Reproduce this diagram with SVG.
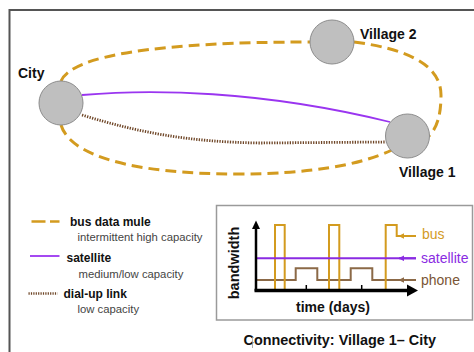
<svg xmlns="http://www.w3.org/2000/svg" width="474" height="352" viewBox="0 0 474 352">
  <defs>
    <style>
      .node { fill: #bfbfbf; stroke: #8c8c8c; stroke-width: 1; }
      .lbl { font-family: "Liberation Sans", Arial, sans-serif; font-weight: bold; fill: #111; }
      .sub { font-family: "Liberation Sans", Arial, sans-serif; fill: #444; font-size: 11.3px; }
      .bus { fill: none; stroke: #d39b1f; stroke-width: 3; stroke-dasharray: 11 6; }
      .sat { fill: none; stroke: #9a35f0; stroke-width: 1.8; }
      .dial { fill: none; stroke: #6e4526; stroke-width: 2.8; stroke-dasharray: 1.3 1.3; }
      .cbus { fill: none; stroke: #d39b1f; stroke-width: 2; }
      .csat { fill: none; stroke: #8a2be2; stroke-width: 2; }
      .cph { fill: none; stroke: #8b6947; stroke-width: 2; }
    </style>
    <marker id="ah-bus" viewBox="0 0 10 10" refX="9" refY="5" markerWidth="3" markerHeight="3" orient="auto">
      <path d="M0,0 L10,5 L0,10 Z" fill="#d39b1f"/>
    </marker>
    <marker id="ah-sat" viewBox="0 0 10 10" refX="9" refY="5" markerWidth="3" markerHeight="3" orient="auto">
      <path d="M0,0 L10,5 L0,10 Z" fill="#8a2be2"/>
    </marker>
    <marker id="ah-ph" viewBox="0 0 10 10" refX="9" refY="5" markerWidth="3" markerHeight="3" orient="auto">
      <path d="M0,0 L10,5 L0,10 Z" fill="#8b6947"/>
    </marker>
  </defs>

  <rect x="0" y="0" width="474" height="352" fill="#ffffff"/>

  <!-- frame -->
  <g id="frame" stroke="#555" stroke-width="2" fill="none">
    <path d="M9.5,352 V10 H474"/>
  </g>

  <!-- connectors -->
  <g id="connectors">
    <path class="bus" d="M61,81 C72,55 160,42 310,42"/>
    <path class="bus" d="M354,42 C400,48 441,62 441,95 C441,115 437,128 429,136"/>
    <path class="bus" d="M61,125 C70,155 130,174 237,174 C310,174 360,165 392,150"/>
    <path class="sat" d="M82,95 C150,89 260,90 390,122"/>
    <path class="dial" d="M82,115 C140,133 190,142 260,143 L386,142"/>
  </g>

  <!-- nodes -->
  <g id="city">
    <circle class="node" cx="61" cy="103" r="22"/>
    <text class="lbl" x="18" y="78" font-size="14">City</text>
  </g>
  <g id="village2">
    <circle class="node" cx="332" cy="42" r="22"/>
    <text class="lbl" x="360" y="39" font-size="14">Village 2</text>
  </g>
  <g id="village1">
    <circle class="node" cx="407.5" cy="136" r="22"/>
    <text class="lbl" x="399" y="177" font-size="14">Village 1</text>
  </g>

  <!-- legend -->
  <g id="legend">
    <path d="M31.5,221.5 H45.5 M50,221.5 H59.5" stroke="#d39b1f" stroke-width="2.5" fill="none"/>
    <text class="lbl" x="70" y="225.5" font-size="12">bus data mule</text>
    <text class="sub" x="77.5" y="241">intermittent high capacity</text>
    <path d="M30,256 H59.5" class="sat"/>
    <text class="lbl" x="66.5" y="262" font-size="12">satellite</text>
    <text class="sub" x="78.5" y="277.5">medium/low capacity</text>
    <path d="M28.5,293.5 H57.5" stroke="#6e4526" stroke-width="2.4" stroke-dasharray="1.2 1.2" fill="none"/>
    <text class="lbl" x="63.5" y="297.5" font-size="12">dial-up link</text>
    <text class="sub" x="77.5" y="312.5">low capacity</text>
  </g>

  <!-- chart -->
  <g id="chart">
    <rect x="216.5" y="205.5" width="256" height="114.5" fill="#fff" stroke="#9a9a9a" stroke-width="1.5"/>
    <text class="lbl" font-size="14.5" text-anchor="middle" transform="translate(239,263) rotate(-90)">bandwidth</text>
    <path class="cph" d="M256,280 H295.7 V268.3 H317.3 V280 H350.7 V268.3 H372.3 V280 H416"/>
    <path class="cbus" d="M275,290 V225 H284.7 V290 M329,290 V225 H339.3 V290 M385.7,290 V225 H396.7 V236 H402"/>
    <path class="csat" d="M256,258.3 H416"/>
    <path class="cbus" d="M416,236 H399" marker-end="url(#ah-bus)"/>
    <path class="csat" d="M416,258.3 H399" marker-end="url(#ah-sat)"/>
    <path class="cph" d="M416,280 H399" marker-end="url(#ah-ph)"/>
    <!-- axes -->
    <path d="M256,291 V227" stroke="#000" stroke-width="2.5" fill="none"/>
    <path d="M256,220.5 L252,229 L260,229 Z" fill="#000"/>
    <path d="M254.5,290.5 H409" stroke="#000" stroke-width="3.5" fill="none"/>
    <path d="M418,290.5 L407,284.5 L407,296.5 Z" fill="#000"/>
    <path d="M306.3,291 V285 M361.7,291 V285" stroke="#000" stroke-width="1.5"/>
    <text x="422" y="239" font-family="Liberation Sans, Arial, sans-serif" font-size="14" fill="#d39b1f">bus</text>
    <text x="421" y="262.5" font-family="Liberation Sans, Arial, sans-serif" font-size="14" fill="#8a2be2">satellite</text>
    <text x="421" y="284.5" font-family="Liberation Sans, Arial, sans-serif" font-size="14" fill="#7a5535">phone</text>
    <text class="lbl" x="333" y="311.5" font-size="14" text-anchor="middle">time (days)</text>
  </g>

  <g id="caption">
    <text class="lbl" x="243.5" y="345" font-size="14.4">Connectivity: Village 1– City</text>
    <path d="M252.5,337 V348" stroke="#999" stroke-width="0.8"/>
  </g>
</svg>
